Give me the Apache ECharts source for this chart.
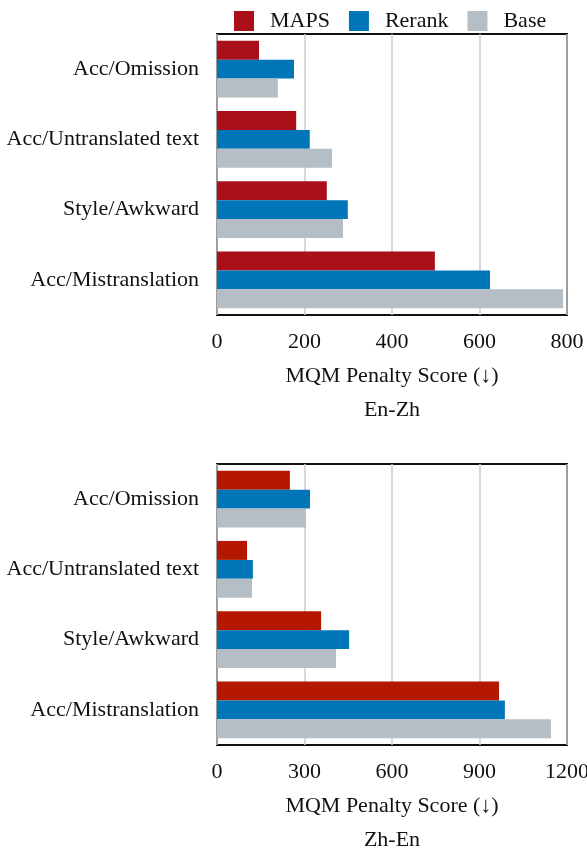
<!DOCTYPE html>
<html><head><meta charset="utf-8">
<script src="https://cdn.jsdelivr.net/npm/echarts@6/dist/echarts.min.js"></script>
<style>html,body{margin:0;padding:0;background:#fff}#c{width:587px;height:850px}</style>
</head><body><div id="c"></div>
<script>
const categories = ["Acc/Omission", "Acc/Untranslated text", "Style/Awkward", "Acc/Mistranslation"];
const seriesNames = ["MAPS", "Rerank", "Base"];
const enZhMAPS = [96, 181, 251, 498];
const enZhRerank = [176, 212, 299, 624];
const enZhBase = [139, 263, 288, 791];
const zhEnMAPS = [250, 103, 357, 967];
const zhEnRerank = [319, 123, 453, 987];
const zhEnBase = [305, 120, 408, 1145];
const enZhTicks = [0, 200, 400, 600, 800];
const zhEnTicks = [0, 300, 600, 900, 1200];

const FONT = "Liberation Serif";
const FS = 22;
const colorsTop = ["#AA0F1A", "#0075B8", "#B4BEC4"];
const colorsBot = ["#B51800", "#0075B8", "#B4BEC4"];
const chart = echarts.init(document.getElementById('c'), null, {renderer: 'canvas'});

function xAx(gi, ticks) {
  return {
    gridIndex: gi, type: 'value', min: ticks[0], max: ticks[ticks.length - 1],
    interval: ticks[1] - ticks[0],
    name: 'MQM Penalty Score (↓)', nameLocation: 'middle', nameGap: 61,
    nameTextStyle: {fontFamily: FONT, fontSize: FS, color: '#111', verticalAlign: 'middle'},
    axisLine: {show: false}, axisTick: {show: false},
    axisLabel: {fontFamily: FONT, fontSize: FS, color: '#111', margin: 16, formatter: v => String(v), hideOverlap: false},
    splitLine: {show: true, lineStyle: {color: '#cccccc', width: 1.5}}
  };
}
function yAx(gi) {
  return {
    gridIndex: gi, type: 'category', data: categories, inverse: true,
    axisLine: {show: false}, axisTick: {show: false},
    axisLabel: {fontFamily: FONT, fontSize: FS, color: '#111', margin: 18, padding: [5, 0, 0, 0]},
    splitLine: {show: false}
  };
}
function bars(gi, arr, colors) {
  return arr.map((d, i) => ({
    name: seriesNames[i], type: 'bar', xAxisIndex: gi, yAxisIndex: gi, data: d,
    barGap: '0%', barCategoryGap: '19%', itemStyle: {color: colors[i]},
    emphasis: {disabled: true}
  }));
}
function gridDef(top) {
  return {left: 217, width: 350, top: top, height: 281, show: true, borderColor: '#111', borderWidth: 2,
    backgroundColor: 'transparent', containLabel: false, outerBoundsMode: 'none'};
}

chart.setOption({
  animation: false,
  textStyle: {fontFamily: FONT},
  legend: {
    left: 229, top: 5, itemWidth: 20, itemHeight: 20, itemGap: 19, icon: 'rect',
    data: seriesNames,
    textStyle: {fontFamily: FONT, fontSize: FS, color: '#111', padding: [0, 0, 0, 11]}
  },
  graphic: [
    {type: 'text', x: 392, y: 410, style: {text: 'En-Zh', font: FS + 'px "' + FONT + '"', fill: '#111', textAlign: 'center', textVerticalAlign: 'middle'}},
    {type: 'text', x: 392, y: 840, style: {text: 'Zh-En', font: FS + 'px "' + FONT + '"', fill: '#111', textAlign: 'center', textVerticalAlign: 'middle'}}
  ],
  grid: [gridDef(34), gridDef(464)],
  xAxis: [xAx(0, enZhTicks), xAx(1, zhEnTicks)],
  yAxis: [yAx(0), yAx(1)],
  series: [
    ...bars(0, [enZhMAPS, enZhRerank, enZhBase], colorsTop),
    ...bars(1, [zhEnMAPS, zhEnRerank, zhEnBase], colorsBot)
  ]
});
</script></body></html>
